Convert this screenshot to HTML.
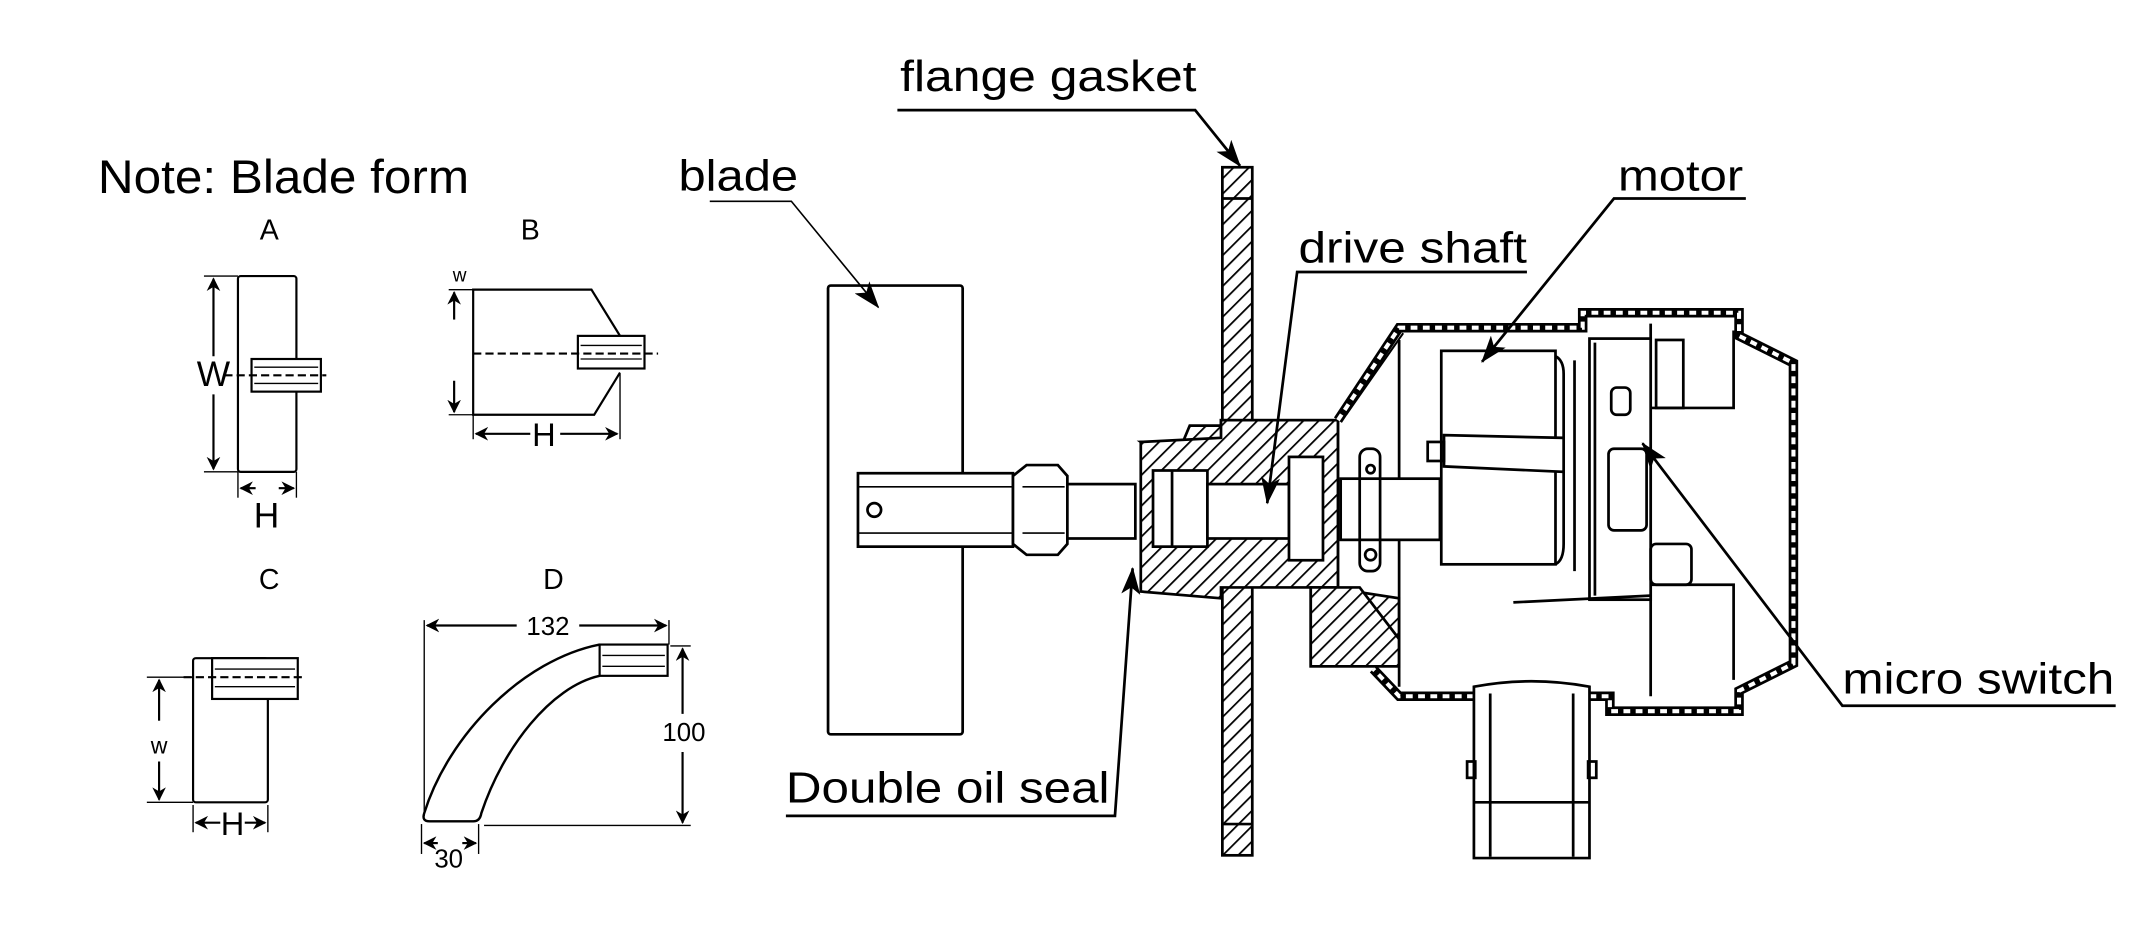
<!DOCTYPE html>
<html><head><meta charset="utf-8"><style>
html,body{margin:0;padding:0;background:#fff;}
svg{display:block;}
text{font-family:"Liberation Sans",Arial,sans-serif;fill:#000;}
</style></head><body>
<svg width="2132" height="941" viewBox="0 0 1568 692" preserveAspectRatio="none" xmlns="http://www.w3.org/2000/svg">
<defs>
<pattern id="h" width="8" height="8" patternUnits="userSpaceOnUse" patternTransform="rotate(45)">
<rect width="8" height="8" fill="#fff"/><line x1="0" y1="0" x2="0" y2="8" stroke="#000" stroke-width="2.6"/>
</pattern>
<marker id="ar" markerWidth="10" markerHeight="10" refX="9" refY="5" orient="auto" markerUnits="userSpaceOnUse" viewBox="0 0 10 10">
<path d="M0,0 L10,5 L0,10 L3,5 z" fill="#000"/></marker>
<marker id="ar2" markerWidth="20" markerHeight="14" refX="19" refY="7" orient="auto" markerUnits="userSpaceOnUse" viewBox="0 0 20 14">
<path d="M0,0 L20,7 L0,14 L5,7 z" fill="#000"/></marker>
</defs>
<text x="72" y="142" font-size="35" textLength="273" lengthAdjust="spacingAndGlyphs">Note: Blade form</text>
<text x="198" y="176" font-size="21" text-anchor="middle">A</text>
<text x="390" y="176" font-size="21" text-anchor="middle">B</text>
<text x="198" y="433" font-size="21" text-anchor="middle">C</text>
<text x="407" y="433" font-size="21" text-anchor="middle">D</text>

<g fill="none" stroke="#000" stroke-width="1.6">
<!-- A -->
<rect x="175" y="203" width="43" height="144" rx="2"/>
<rect x="185" y="264" width="51" height="24" fill="#fff"/>
<line x1="187" y1="270" x2="234" y2="270" stroke-width="1"/>
<line x1="187" y1="282" x2="234" y2="282" stroke-width="1"/>
<line x1="165" y1="276" x2="240" y2="276" stroke-dasharray="6,3"/>
<line x1="150" y1="203" x2="175" y2="203" stroke-width="1"/>
<line x1="150" y1="347" x2="175" y2="347" stroke-width="1"/>
<line x1="157" y1="262" x2="157" y2="205" marker-end="url(#ar)"/>
<line x1="157" y1="290" x2="157" y2="345" marker-end="url(#ar)"/>
<line x1="175" y1="347" x2="175" y2="366" stroke-width="1"/>
<line x1="218" y1="347" x2="218" y2="366" stroke-width="1"/>
<line x1="188" y1="359" x2="177" y2="359" marker-end="url(#ar)"/>
<line x1="205" y1="359" x2="216" y2="359" marker-end="url(#ar)"/>
<!-- B -->
<path d="M456,247 L435,213 L348,213 L348,305 L437,305 L456,274"/>
<rect x="425" y="247" width="49" height="24" fill="#fff"/>
<line x1="427" y1="254" x2="472" y2="254" stroke-width="1"/>
<line x1="427" y1="264" x2="472" y2="264" stroke-width="1"/>
<line x1="348" y1="260" x2="484" y2="260" stroke-dasharray="6,3"/>
<line x1="330" y1="213" x2="348" y2="213" stroke-width="1"/>
<line x1="330" y1="305" x2="348" y2="305" stroke-width="1"/>
<line x1="334" y1="235" x2="334" y2="215" marker-end="url(#ar)"/>
<line x1="334" y1="280" x2="334" y2="303" marker-end="url(#ar)"/>
<line x1="348" y1="305" x2="348" y2="323" stroke-width="1"/>
<line x1="456" y1="275" x2="456" y2="323" stroke-width="1"/>
<line x1="390" y1="319" x2="350" y2="319" marker-end="url(#ar)"/>
<line x1="412" y1="319" x2="454" y2="319" marker-end="url(#ar)"/>
<!-- C -->
<rect x="142" y="484" width="55" height="106" rx="2"/>
<rect x="156" y="484" width="63" height="30" fill="#fff"/>
<line x1="158" y1="492" x2="217" y2="492" stroke-width="1"/>
<line x1="158" y1="505" x2="217" y2="505" stroke-width="1"/>
<line x1="135" y1="498" x2="224" y2="498" stroke-dasharray="6,3"/>
<line x1="108" y1="498" x2="142" y2="498" stroke-width="1"/>
<line x1="108" y1="590" x2="142" y2="590" stroke-width="1"/>
<line x1="117" y1="530" x2="117" y2="500" marker-end="url(#ar)"/>
<line x1="117" y1="560" x2="117" y2="588" marker-end="url(#ar)"/>
<line x1="142" y1="592" x2="142" y2="612" stroke-width="1"/>
<line x1="197" y1="592" x2="197" y2="612" stroke-width="1"/>
<line x1="162" y1="605" x2="144" y2="605" marker-end="url(#ar)"/>
<line x1="180" y1="605" x2="195" y2="605" marker-end="url(#ar)"/>
<!-- D -->
<path d="M441,474 C385,485 330,540 312,598 Q310,604 316,604 L348,604 Q353,604 354,598 C370,550 405,505 441,497" fill="#fff" stroke-width="1.8"/>
<rect x="441" y="474" width="50" height="23" fill="#fff"/>
<line x1="443" y1="482" x2="489" y2="482" stroke-width="1"/>
<line x1="443" y1="490" x2="489" y2="490" stroke-width="1"/>
<line x1="312" y1="456" x2="312" y2="600" stroke-width="1"/>
<line x1="492" y1="456" x2="492" y2="474" stroke-width="1"/>
<line x1="380" y1="460" x2="314" y2="460" marker-end="url(#ar)"/>
<line x1="426" y1="460" x2="490" y2="460" marker-end="url(#ar)"/>
<line x1="493" y1="475" x2="508" y2="475" stroke-width="1"/>
<line x1="356" y1="607" x2="508" y2="607" stroke-width="1"/>
<line x1="502" y1="525" x2="502" y2="477" marker-end="url(#ar)"/>
<line x1="502" y1="553" x2="502" y2="605" marker-end="url(#ar)"/>
<line x1="310" y1="606" x2="310" y2="628" stroke-width="1"/>
<line x1="352" y1="606" x2="352" y2="628" stroke-width="1"/>
<line x1="322" y1="620" x2="312" y2="620" marker-end="url(#ar)"/>
<line x1="340" y1="620" x2="350" y2="620" marker-end="url(#ar)"/>
</g>
<text x="157" y="284" font-size="26" text-anchor="middle">W</text>
<text x="196" y="388" font-size="26" text-anchor="middle">H</text>
<text x="338" y="207" font-size="14" text-anchor="middle">w</text>
<text x="400" y="328" font-size="24" text-anchor="middle">H</text>
<text x="117" y="554" font-size="17" text-anchor="middle">w</text>
<text x="171" y="614" font-size="24" text-anchor="middle">H</text>
<text x="403" y="467" font-size="19" text-anchor="middle">132</text>
<text x="503" y="545" font-size="19" text-anchor="middle">100</text>
<text x="330" y="638" font-size="19" text-anchor="middle">30</text>

<g fill="none" stroke="#000" stroke-width="2">
<rect x="609" y="210" width="99" height="330" rx="2" fill="#fff"/>
<rect x="631" y="348" width="114" height="54" fill="#fff"/>
<line x1="631" y1="358" x2="745" y2="358" stroke-width="1.2"/>
<line x1="631" y1="392" x2="745" y2="392" stroke-width="1.2"/>
<circle cx="643" cy="375" r="5"/>
<path d="M745,350 L755,342 L778,342 L785,350 L785,400 L778,408 L755,408 L745,400 Z" fill="#fff"/>
<line x1="752" y1="358" x2="783" y2="358" stroke-width="1.2"/>
<line x1="752" y1="392" x2="783" y2="392" stroke-width="1.2"/>
<rect x="785" y="356" width="50" height="40" fill="#fff"/>
<rect x="899" y="123" width="22" height="506" fill="url(#h)"/>
<line x1="899" y1="146" x2="921" y2="146"/>
<line x1="899" y1="606" x2="921" y2="606"/>
<path d="M839,325 L870,325 L875,313 L898,313 L898,309 L984,309 L984,433 L964,433 L964,490 L1029,490 L1029,440 L984,433 Z" fill="url(#h)"/>
<path d="M839,325 L898,322 L898,309 L984,309 L984,432 L898,432 L898,440 L839,435 Z" fill="url(#h)"/>
<path d="M964,432 L1000,432 L1029,470 L1029,490 L964,490 Z" fill="url(#h)"/>
<rect x="848" y="346" width="40" height="56" fill="#fff"/>
<line x1="862" y1="346" x2="862" y2="402"/>
<rect x="888" y="356" width="60" height="40" fill="#fff"/>
<rect x="948" y="336" width="25" height="76" fill="#fff"/>
<path d="M984,309 L1029,241 L1164,241 L1164,230 L1279,230 L1279,247 L1319,267 L1319,488 L1279,508 L1279,523 L1184,523 L1184,512 L1029,512 L1010,492" fill="none" stroke-width="7"/>
<path d="M984,309 L1029,241 L1164,241 L1164,230 L1279,230 L1279,247 L1319,267 L1319,488 L1279,508 L1279,523 L1184,523 L1184,512 L1029,512 L1010,492" fill="none" stroke="#fff" stroke-width="3" stroke-dasharray="5,4"/>
<line x1="1029" y1="250" x2="1029" y2="505"/>
<line x1="1214" y1="238" x2="1214" y2="512"/>
<line x1="990" y1="305" x2="1032" y2="245" stroke-width="1.5"/>
<rect x="1060" y="258" width="84" height="157" fill="#fff"/>
<path d="M1144,262 Q1150,265 1150,275 L1150,400 Q1150,412 1144,415"/>
<path d="M1062,320 L1150,322 L1150,347 L1062,343 Z" fill="#fff"/>
<rect x="1050" y="325" width="12" height="14"/>
<rect x="986" y="352" width="73" height="45" fill="#fff"/>
<rect x="1000" y="330" width="15" height="90" rx="6"/>
<circle cx="1008" cy="345" r="3"/><circle cx="1008" cy="408" r="4"/>
<line x1="1158" y1="265" x2="1158" y2="420"/>
<rect x="1169" y="249" width="45" height="192" fill="#fff"/>
<line x1="1173" y1="252" x2="1173" y2="438"/>
<rect x="1185" y="285" width="14" height="20" rx="4"/>
<rect x="1183" y="330" width="28" height="60" rx="4"/>
<rect x="1218" y="250" width="20" height="50"/>
<rect x="1214" y="400" width="30" height="30" rx="4"/>
<line x1="1113" y1="443" x2="1214" y2="438"/>
<path d="M1214,300 L1275,300 L1275,243 M1214,430 L1275,430 L1275,500"/>
<path d="M1084,505 Q1126,497 1169,505 L1169,631 L1084,631 Z" fill="#fff"/>
<line x1="1096" y1="510" x2="1096" y2="630"/>
<line x1="1157" y1="510" x2="1157" y2="630"/>
<line x1="1084" y1="590" x2="1169" y2="590"/>
<rect x="1079" y="560" width="6" height="12"/><rect x="1168" y="560" width="6" height="12"/>
</g>

<g fill="none" stroke="#000" stroke-width="2">
<polyline points="660,81 879,81 912,122" marker-end="url(#ar2)"/>
<polyline points="522,148 582,148 646,226" stroke-width="1.2" marker-end="url(#ar2)"/>
<polyline points="1123,200 954,200 932,370" marker-end="url(#ar2)"/>
<polyline points="1284,146 1187,146 1090,266" marker-end="url(#ar2)"/>
<polyline points="1556,519 1355,519 1208,326" marker-end="url(#ar2)"/>
<polyline points="578,600 820,600 833,418" marker-end="url(#ar2)"/>
</g>
<text x="662" y="67" font-size="32" textLength="218" lengthAdjust="spacingAndGlyphs">flange gasket</text>
<text x="499" y="140" font-size="32" textLength="88" lengthAdjust="spacingAndGlyphs">blade</text>
<text x="955" y="193" font-size="32" textLength="168" lengthAdjust="spacingAndGlyphs">drive shaft</text>
<text x="1190" y="140" font-size="32" textLength="92" lengthAdjust="spacingAndGlyphs">motor</text>
<text x="1355" y="510" font-size="32" textLength="200" lengthAdjust="spacingAndGlyphs">micro switch</text>
<text x="578" y="590" font-size="32" textLength="238" lengthAdjust="spacingAndGlyphs">Double oil seal</text>
</svg>
</body></html>
